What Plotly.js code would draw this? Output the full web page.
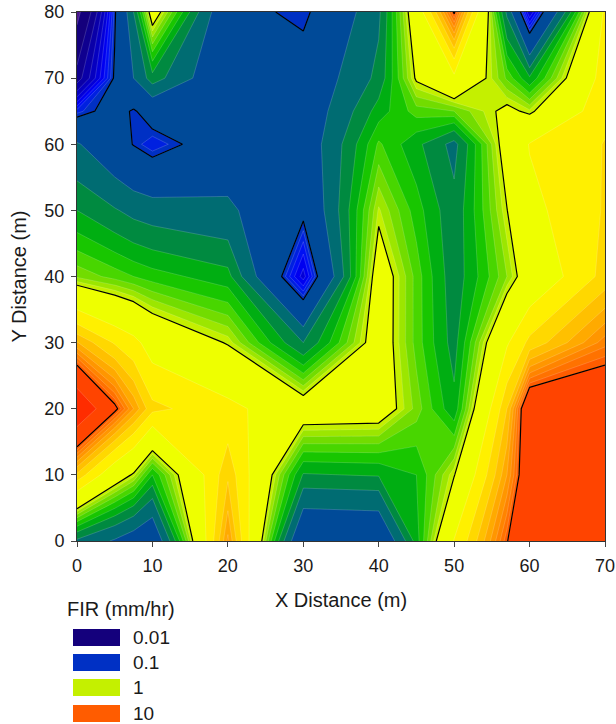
<!DOCTYPE html>
<html><head><meta charset="utf-8">
<script src="https://cdn.plot.ly/plotly-3.0.1.min.js"></script>
<style>html,body{margin:0;padding:0;background:#fff}#c{width:616px;height:724px}</style>
</head><body><div id="c"></div>
<script>
const xDist = [0,5,7.5,10,20,30,40,45,50,57,60,70];
const yDist = [0,10,20,30,40,50,60,65,70,80];
const fir00 = [0.28,0.19,0.15,0.12,6.3,0.105,0.11,0.45,2.05,9.8,18,18];
const fir10 = [3.8,1.35,0.95,0.5,3.8,0.39,0.41,0.5,0.98,6,15.5,18];
const fir20 = [37,11,6,3.3,2.3,1.35,1.28,0.76,0.43,4,17,17];
const fir30 = [5.1,2.9,2.3,1.6,0.97,0.3,1.29,0.66,0.36,1.9,3.3,7.6];
const fir40 = [0.78,0.66,0.6,0.55,0.44,0.055,1.3,0.66,0.34,0.8,1.3,3.4];
const fir50 = [0.4,0.31,0.27,0.25,0.22,0.112,0.92,0.55,0.33,0.99,1.75,3.1];
const fir60 = [0.21,0.13,0.098,0.08,0.14,0.14,0.62,0.43,0.27,1.25,2.05,3.05];
const fir65 = [0.085,0.12,0.095,0.13,0.13,0.135,0.45,0.65,0.7,1.1,0.93,2.76];
const fir70 = [0.025,0.105,0.2,0.36,0.12,0.13,0.33,1.05,1.8,0.68,0.42,2.5];
const fir80 = [0.008,0.095,0.3,1.3,0.12,0.09,0.28,1.43,10.5,0.28,0.05,2.2];
const firRows = [fir00,fir10,fir20,fir30,fir40,fir50,fir60,fir65,fir70,fir80];

// lower bound of each filled band and its colour
const bandLevels = [0.01,0.02,0.03,0.04,0.05,0.06,0.07,0.08,0.09,0.1,0.2,0.3,0.4,0.5,0.6,0.7,0.8,0.9,1,2,3,4,5,6,7,8,9,10,20];
const bandColors = ['#14007c','#0f008f','#0a00a8','#0600c0','#0300d8','#0000f0','#0010f4','#0020e0','#0030c4','#004a98','#006c72','#008a40','#00ae12','#18c600','#48d600','#72dc00','#9ce600','#c4f000','#eeff00','#fff000','#ffd800','#ffc000','#ffaa00','#ff9600','#ff8400','#ff7200','#ff5c00','#ff4400','#ff2c00'];
const baseColor = '#4a1590';
const blackLevels = [0.1,1,10];

const legendLabels = ['0.01','0.1','1','10'];
const legendColors = ['#14007c','#0030c4','#c4f000','#ff5c00'];

const logZ = firRows.map(r => r.map(v => Math.log10(v)));
const traces = [];
// a '>=' constraint paints the part of the plot below its level, so paint from the top level down
for (let i = bandLevels.length-1; i >= 0; i--) {
  traces.push({type:'contour',x:xDist,y:yDist,z:logZ,autocontour:false,showscale:false,hoverinfo:'skip',
    contours:{type:'constraint',operation:'>=',value:Math.log10(bandLevels[i]),showlines:true},
    fillcolor:i>0?bandColors[i-1]:baseColor,line:{color:'rgba(255,255,255,0.28)',width:0.6,smoothing:0}});
}
blackLevels.forEach(lv=>{
  const v = Math.log10(lv);
  traces.push({type:'contour',x:xDist,y:yDist,z:logZ,autocontour:false,showscale:false,hoverinfo:'skip',
    contours:{coloring:'lines',start:v,end:v,size:1,showlabels:false},
    colorscale:[[0,'#000'],[1,'#000']],line:{width:1.2,smoothing:0}});
});

const W=616,H=724,L=77,R=11,T=12,B=183;
const pw=W-L-R, ph=H-T-B;
const px=x=>(x-L)/pw, py=y=>(H-B-y)/ph;
const fam='"Liberation Sans",Arial,sans-serif';
const tickFont={family:fam,size:18,color:'#1a1a1a'};
const titleFont={family:fam,size:20,color:'#1a1a1a'};
const legFont={family:fam,size:19,color:'#1a1a1a'};
const shapes=[],annotations=[];
const rowTop=[629,654,679,705];
legendLabels.forEach((t,i)=>{
  shapes.push({type:'rect',xref:'paper',yref:'paper',x0:px(73),x1:px(120),y0:py(rowTop[i]+17),y1:py(rowTop[i]),fillcolor:legendColors[i],line:{width:0}});
  annotations.push({xref:'paper',yref:'paper',x:px(131),y:py(rowTop[i]+8.5),text:t,showarrow:false,xanchor:'left',yanchor:'middle',font:legFont});
});
annotations.push({xref:'paper',yref:'paper',x:px(65),y:py(609),text:'FIR (mm/hr)',showarrow:false,xanchor:'left',yanchor:'middle',font:titleFont});

const axis={ticks:'outside',ticklen:5,tickwidth:1,tickcolor:'#444',linecolor:'#333',linewidth:1,mirror:true,showline:true,showgrid:false,zeroline:false,tick0:0,dtick:10,tickfont:tickFont};
Plotly.newPlot('c',traces,{
  width:W,height:H,margin:{l:L,r:R,t:T,b:B,pad:0},
  paper_bgcolor:'#fff',plot_bgcolor:bandColors[bandColors.length-1],showlegend:false,
  xaxis:Object.assign({},axis,{range:[0,70],ticklabelstandoff:3,title:{text:'X Distance (m)',font:titleFont,standoff:18}}),
  yaxis:Object.assign({},axis,{range:[0,80],ticklabelstandoff:3,title:{text:'Y Distance (m)',font:titleFont,standoff:12}}),
  shapes:shapes,annotations:annotations
},{displayModeBar:false,staticPlot:true});
</script></body></html>
